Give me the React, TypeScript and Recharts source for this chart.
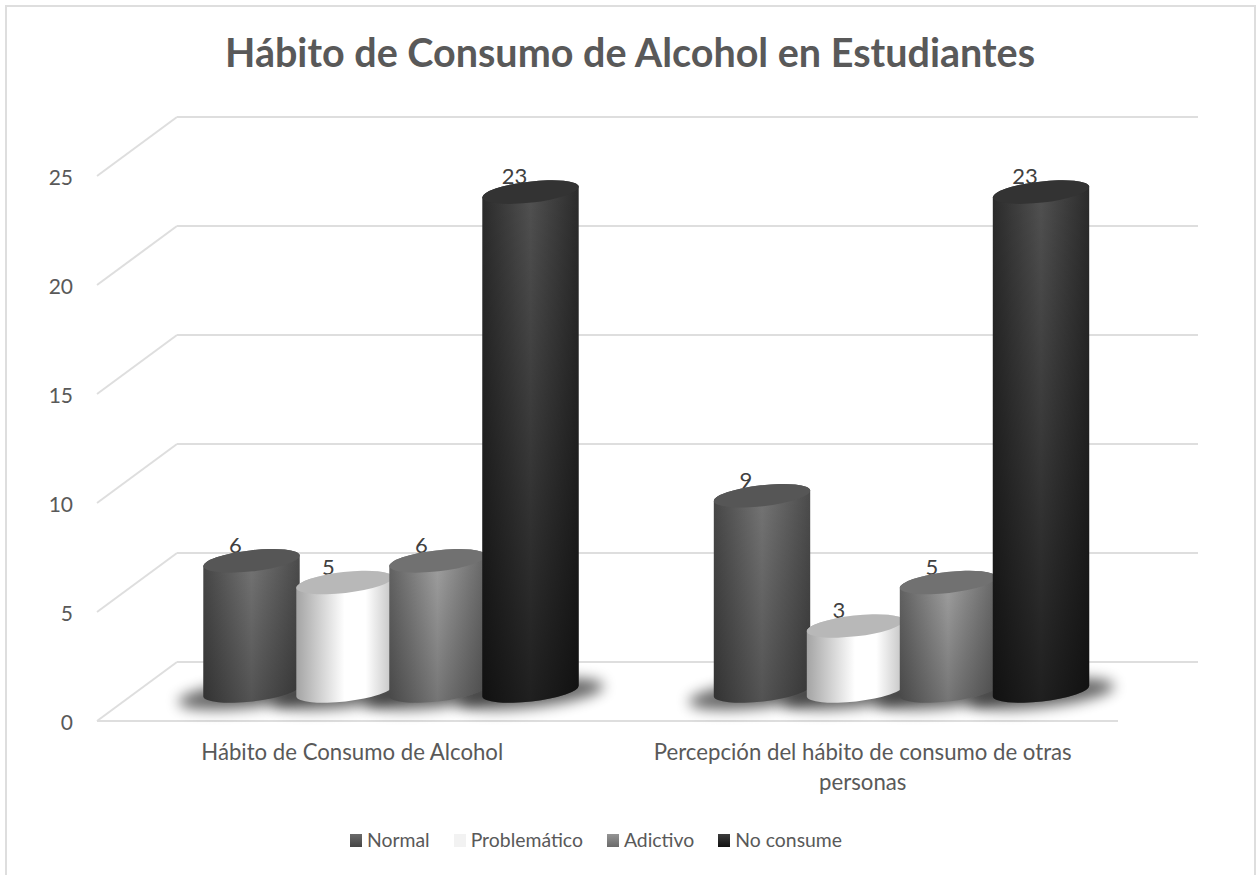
import React from 'react';
import { BarChart, Bar, XAxis, YAxis, CartesianGrid, Legend } from 'recharts';

const categoryLines = [
  ['Hábito de Consumo de Alcohol'],
  ['Percepción del hábito de consumo de otras', 'personas'],
];
const categories = categoryLines.map((lines) => lines.join(' '));
const normal = [6, 9];
const problematico = [5, 3];
const adictivo = [6, 5];
const noConsume = [23, 23];
const yTicks = [0, 5, 10, 15, 20, 25];
const seriesNames = ['Normal', 'Problemático', 'Adictivo', 'No consume'];

const data = categories.map((name, i) => ({
  name,
  Normal: normal[i],
  'Problemático': problematico[i],
  Adictivo: adictivo[i],
  'No consume': noConsume[i],
}));

const FONT = 'Lato, sans-serif';
const GRID = '#dedede';

// fake 3d: the bars stand halfway into the floor, the walls at the back of it
const WALL_DX = 80;
const WALL_DY = -59;
const BAR_DX = 39;
const BAR_DY = -30;
const DEPTH = 0.995;
const TILT = -6.5;
const RX = 48.5;
const RY = 10.5;

const looks: any = {
  normal: { edge: '#484848', mid: '#767676', edge2: '#4c4c4c', top: '#565656', shade: 0.3, swatch: 'linear-gradient(#6a6a6a,#454545)' },
  prob: { edge: '#a4a4a4', mid: '#ffffff', edge2: '#c4c4c4', top: '#b8b8b8', shade: 0, swatch: '#f2f2f2' },
  adic: { edge: '#646464', mid: '#a2a2a2', edge2: '#686868', top: '#717171', shade: 0.28, swatch: 'linear-gradient(#959595,#6a6a6a)' },
  none: { edge: '#2c2c2c', mid: '#525252', edge2: '#2c2c2c', top: '#333333', shade: 0.62, swatch: 'linear-gradient(#3c3c3c,#111111)' },
};
const swatchByName: any = {
  Normal: looks.normal.swatch,
  'Problemático': looks.prob.swatch,
  Adictivo: looks.adic.swatch,
  'No consume': looks.none.swatch,
};

function Cylinder(props: any) {
  const { x, y, width, height, look, dataKey, payload, withShadows } = props;
  const cx = x + width / 2 + BAR_DX;
  const baseY = y + height + BAR_DY;
  const topY = baseY - height * DEPTH;
  const sx = RX * Math.cos((TILT * Math.PI) / 180);
  const sy = -RX * Math.sin((TILT * Math.PI) / 180);
  const side =
    `M${cx - sx} ${topY + sy} L${cx - sx} ${baseY + sy} ` +
    `A${RX} ${RY} ${TILT} 0 0 ${cx + sx} ${baseY - sy} L${cx + sx} ${topY - sy} ` +
    `A${RX} ${RY} ${TILT} 0 0 ${cx - sx} ${topY + sy} Z`;
  return (
    <g>
      {withShadows &&
        [0, 1, 2, 3].map((i) => (
          <ellipse
            key={i}
            cx={cx + i * width}
            cy={baseY + 3}
            rx={RX + 25}
            ry={RY + 3}
            fill="#000"
            opacity={0.6}
            filter="url(#floorBlur)"
            transform={`rotate(${TILT} ${cx + i * width} ${baseY + 3})`}
          />
        ))}
      <text x={cx - 16} y={topY - 8} textAnchor="middle" fontFamily={FONT} fontSize={22} fill="#404040">
        {payload[dataKey]}
      </text>
      <path d={side} fill={`url(#side-${look})`} />
      <path d={side} fill="url(#shade)" opacity={looks[look].shade} />
      <ellipse cx={cx} cy={topY} rx={RX} ry={RY} fill={looks[look].top} transform={`rotate(${TILT} ${cx} ${topY})`} />
    </g>
  );
}

function GridLine(props: any) {
  const { x1, y1, x2, y2 } = props;
  return (
    <g stroke={GRID} strokeWidth={2} fill="none">
      <line x1={x1 + WALL_DX} y1={y1 + WALL_DY} x2={x2 + WALL_DX} y2={y2 + WALL_DY} />
      <line x1={x1} y1={y1} x2={x1 + WALL_DX} y2={y1 + WALL_DY} />
      {y1 > 700 && <line x1={x1} y1={y1} x2={x2} y2={y2} />}
    </g>
  );
}

function CategoryTick(props: any) {
  const { x, y, index } = props;
  return (
    <text x={x} y={y + 17} textAnchor="middle" fontFamily={FONT} fontSize={22.2} fill="#595959">
      {categoryLines[index].map((line, i) => (
        <tspan key={line} x={x} dy={i === 0 ? 0 : 30}>
          {line}
        </tspan>
      ))}
    </text>
  );
}

function LegendRow() {
  return (
    <div style={{ display: 'flex', justifyContent: 'center', gap: 24, fontFamily: FONT, fontSize: 19.4, color: '#595959', lineHeight: '24px' }}>
      {seriesNames.map((name) => (
        <div key={name} style={{ display: 'flex', alignItems: 'center', gap: 5 }}>
          <span style={{ width: 12, height: 13, background: swatchByName[name], display: 'inline-block' }} />
          {name}
        </div>
      ))}
    </div>
  );
}

export default function App() {
  return (
    <div style={{ position: 'absolute', left: 0, top: 0, width: 1256, height: 875, overflow: 'hidden', background: '#fff' }}>
      <div style={{ position: 'absolute', left: 5, top: 5, width: 1247, height: 900, border: '2px solid #dedede' }} />
      <div style={{ position: 'absolute', left: 0, top: 0 }}>
        <BarChart
          width={1256}
          height={875}
          data={data}
          barSize={93}
          barGap={0}
          margin={{ top: 176, right: 138, bottom: 100, left: 0 }}
        >
          <defs>
            <filter id="floorBlur" x="-30%" y="-100%" width="160%" height="300%">
              <feGaussianBlur stdDeviation="7" />
            </filter>
            {Object.keys(looks).map((k) => (
              <linearGradient key={k} id={`side-${k}`} x1="0" y1="0" x2="1" y2="0">
                <stop offset="0%" stopColor={looks[k].edge} />
                <stop offset="50%" stopColor={looks[k].mid} />
                <stop offset={k === 'prob' ? '72%' : '50%'} stopColor={looks[k].mid} />
                <stop offset="100%" stopColor={looks[k].edge2} />
              </linearGradient>
            ))}
            <linearGradient id="shade" x1="0" y1="0" x2="0" y2="1">
              <stop offset="0%" stopColor="#000" stopOpacity={0} />
              <stop offset="100%" stopColor="#000" stopOpacity={1} />
            </linearGradient>
          </defs>
          <text x={630} y={67} textAnchor="middle" fontFamily={FONT} fontWeight={700} fontSize={39.5} fill="#595959">
            Hábito de Consumo de Alcohol en Estudiantes
          </text>
          <CartesianGrid vertical={false} horizontal={(p: any) => <GridLine key={p.key} {...p} />} />
          <XAxis dataKey="name" height={30} axisLine={false} tickLine={false} tick={<CategoryTick />} tickSize={0} tickMargin={22} interval={0} />
          <YAxis
            width={97}
            domain={[0, 25]}
            ticks={yTicks}
            axisLine={false}
            tickLine={false}
            tickSize={0}
            tickMargin={24}
            tick={{ fontFamily: FONT, fontSize: 21, fill: '#595959', dy: 2 }}
          />
          <Legend
            height={24}
            content={<LegendRow />}
            wrapperStyle={{ top: 828, left: 0, width: 1192 }}
          />
          <Bar dataKey="Normal" fill="#5a5a5a" isAnimationActive={false} shape={(p: any) => <Cylinder {...p} look="normal" dataKey="Normal" withShadows />} />
          <Bar dataKey="Problemático" fill="#f2f2f2" isAnimationActive={false} shape={(p: any) => <Cylinder {...p} look="prob" dataKey="Problemático" />} />
          <Bar dataKey="Adictivo" fill="#808080" isAnimationActive={false} shape={(p: any) => <Cylinder {...p} look="adic" dataKey="Adictivo" />} />
          <Bar dataKey="No consume" fill="#1a1a1a" isAnimationActive={false} shape={(p: any) => <Cylinder {...p} look="none" dataKey="No consume" />} />
        </BarChart>
      </div>
    </div>
  );
}
